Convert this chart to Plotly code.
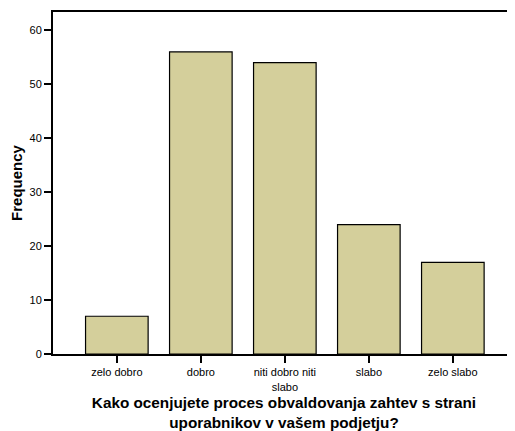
import plotly.graph_objects as go

categories = ["zelo dobro", "dobro", "niti dobro niti<br>slabo", "slabo", "zelo slabo"]
frequencies = [7, 56, 54, 24, 17]
y_tick_values = [0, 10, 20, 30, 40, 50, 60]

fig = go.Figure(go.Bar(
    x=list(range(len(categories))),
    y=frequencies,
    marker=dict(color="#D4CF9B", line=dict(color="#000000", width=1.2)),
    width=0.745,
))

# the page body adds an 8px margin, so the figure is 8px smaller than the window
fig.update_layout(
    width=507, height=423,
    margin=dict(l=45, r=0, t=4, b=77, autoexpand=False),
    plot_bgcolor="white", paper_bgcolor="white",
    font=dict(family="Liberation Sans, Arial, sans-serif", color="#000000"),
    showlegend=False,
    bargap=0.25,
)
fig.update_xaxes(
    range=[-0.76, 4.74],
    tickmode="array", tickvals=list(range(len(categories))), ticktext=categories,
    ticks="outside", ticklen=7, tickwidth=1.5, tickcolor="#000",
    showline=True, linecolor="#000", linewidth=2, mirror=True,
    showgrid=False, zeroline=False,
    tickfont=dict(size=11),
    automargin=False,
    title=dict(text="<b>Kako ocenjujete proces obvaldovanja zahtev s strani<br>uporabnikov v vašem podjetju?</b>",
               font=dict(size=15.3), standoff=7),
)
fig.update_yaxes(
    range=[0, 63.4],
    tickmode="array", tickvals=y_tick_values,
    ticks="outside", ticklen=7, tickwidth=1.5, tickcolor="#000",
    showline=True, linecolor="#000", linewidth=2, mirror=False,
    showgrid=False, zeroline=False,
    tickfont=dict(size=11),
    automargin=False,
    title=dict(text="<b>Frequency</b>", font=dict(size=15), standoff=4),
)

fig.write_html("out.html")
